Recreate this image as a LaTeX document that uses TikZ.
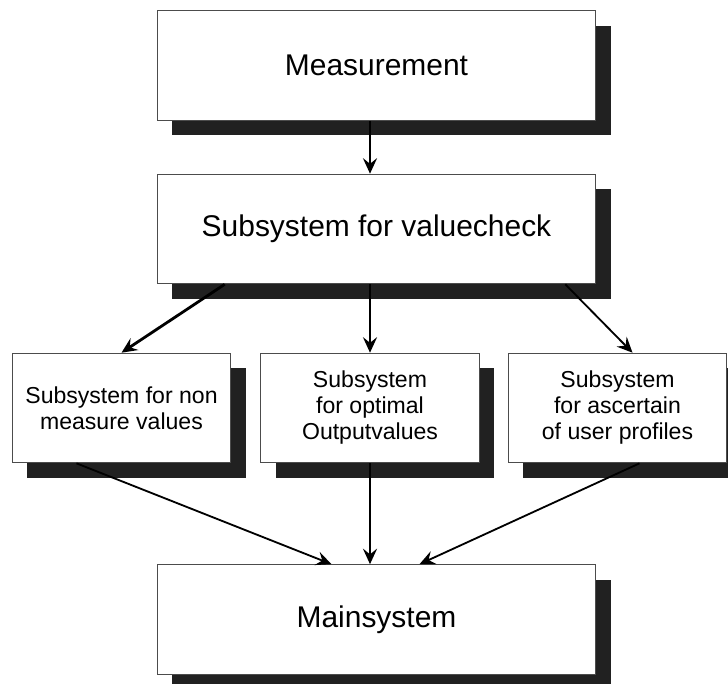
\documentclass[tikz,border=0pt]{standalone}
\usepackage{fontspec}
\setmainfont{Liberation Sans}
\usepackage{tikz}
\usetikzlibrary{calc}
\usetikzlibrary{shadows}
\usetikzlibrary{arrows.meta}
\tikzset{
  myarrow/.style={
    draw=black,
    line width=2pt,
    -{Stealth[length=11pt, width=10pt, inset=4pt]},
  },
  mythinarrow/.style={
    myarrow,
    line width=1.3pt,
  },
  mybox/.style={
    draw=black!70,
    fill=white,
    shape=rectangle,
    line width=0.7pt,
    align=center,
    inner sep=0pt,
    drop shadow={shadow xshift=10.7pt, shadow yshift=-10.7pt, opacity=1, fill=black!87},
  },
  mybigbox/.style={
    mybox,
    minimum width=312pt,
    minimum height=78pt,
    font=\fontsize{21.3}{24}\selectfont
  },
  mysmallbox/.style={
    mybox,
    minimum width=155.5pt,
    minimum height=78pt,
    font=\fontsize{16.4}{18.5}\selectfont
  }
}

\begin{document}
\begin{tikzpicture}[x=0.7113pt, y=-0.7113pt]
    \useasboundingbox (0,0) rectangle (728,683);

    \node [mybigbox] (M) at (376.5,  65.5) {Measurement};
    \node [mybigbox] (V) at (376.5, 229.0) {Subsystem for valuecheck};

    \node [mysmallbox] (N) at (121.5, 408.0) {Subsystem for non\\measure values};
    \node [mysmallbox] (O) at (370.0, 408.0) {Subsystem\\for optimal\\Outputvalues};
    \node [mysmallbox] (U) at (617.5, 408.0) {Subsystem\\for ascertain\\of user profiles};

    \node [mybigbox] (S) at (376.5, 619.5) {Mainsystem};

    \draw [myarrow] (M.south -| O.north) -- (V.north -| O.north);

    % Arrows to the subsystems
    \draw [myarrow] ($(V.south west)+(68,0)$) -- (N.north);
    \draw [myarrow] (V.south -| O.north) -- (O.north);
    \draw [mythinarrow] ($(V.south east)+(-31,0)$) -- ($(U.north)+(15,0)$);

    % Arrows to the main system
    \draw [mythinarrow] ($(N.south)+(-45,0)$) -- ($(S.north)+(-45,0)$);
    \draw [myarrow] (O.south) -- (O.south |- S.north);
    \draw [mythinarrow] ($(U.south)+(22,0)$) -- ($(S.north)+(43,0)$);
  \end{tikzpicture}
\end{document}
